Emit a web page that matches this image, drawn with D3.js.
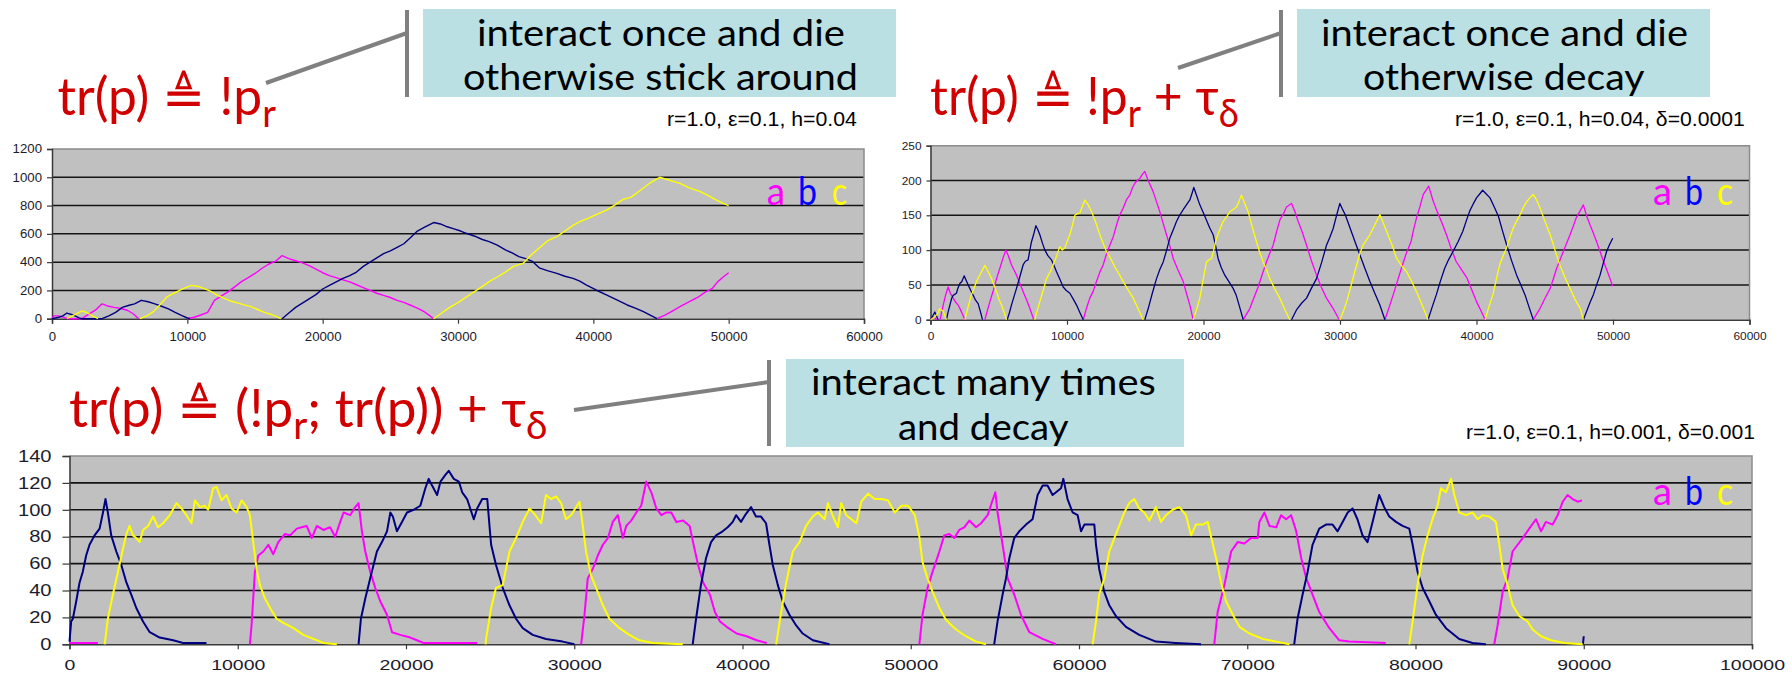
<!DOCTYPE html>
<html><head><meta charset="utf-8">
<script src="https://cdn.jsdelivr.net/npm/d3@7"></script>
<style>body{margin:0;background:#fff}svg{display:block}</style>
</head><body>
<svg id="c" width="1792" height="674"></svg>
<script>
// ---------------- DATA ----------------
const seriesNames = ["a", "b", "c"];
const seriesColors = ["#ff00ff", "#000080", "#ffff00"];
const legendColors = ["#ff00ff", "#0000ff", "#ffff00"];

const titles = [
  [{t:"tr(p) \u225C !p"},{t:"r",sub:true}],
  [{t:"tr(p) \u225C !p"},{t:"r",sub:true},{t:" + \u03C4"},{t:"\u03B4",sub:true}],
  [{t:"tr(p) \u225C (!p"},{t:"r",sub:true},{t:"; tr(p)) + \u03C4"},{t:"\u03B4",sub:true}]
];
const notes = [
  ["interact once and die", "otherwise stick around"],
  ["interact once and die", "otherwise decay"],
  ["interact many times", "and decay"]
];
const params = ["r=1.0, \u03B5=0.1, h=0.04", "r=1.0, \u03B5=0.1, h=0.04, \u03B4=0.0001", "r=1.0, \u03B5=0.1, h=0.001, \u03B4=0.001"];

const p1XTicks = [0,10000,20000,30000,40000,50000,60000];
const p1YTicks = [0,200,400,600,800,1000,1200];
const p2XTicks = [0,10000,20000,30000,40000,50000,60000];
const p2YTicks = [0,50,100,150,200,250];
const p3XTicks = [0,10000,20000,30000,40000,50000,60000,70000,80000,90000,100000];
const p3YTicks = [0,20,40,60,80,100,120,140];

// panel 1 : [time, count], [null] = gap
const p1_a = [[0,0],[120,20],[500,20],[1100,2],[1300,0],[2200,0],[2700,30],[3200,60],[3700,105],[4100,90],[4600,80],[5100,72],[5600,58],[6000,35],[6400,0],[null],[10000,0],[10500,10],[11000,26],[11500,45],[12000,130],[12500,160],[13000,190],[13500,225],[14000,262],[14500,290],[15000,320],[15500,355],[16000,385],[16500,405],[17000,446],[17500,425],[18000,410],[18500,395],[19000,375],[19500,350],[20000,325],[20500,305],[21000,290],[21500,275],[22000,260],[22500,240],[23000,220],[23500,200],[24000,180],[24500,165],[25000,150],[25500,130],[26000,115],[26500,95],[27000,75],[27500,50],[28000,15],[28200,0],[null],[44700,0],[45300,25],[45900,57],[46500,90],[47100,120],[47700,150],[48300,190],[48800,215],[49200,262],[49600,295],[50000,325]];
const p1_b = [[0,0],[500,10],[800,20],[1100,40],[1500,28],[2000,5],[2200,0],[3700,0],[4200,20],[4700,45],[5200,80],[5700,95],[6100,105],[6600,130],[7100,120],[7600,105],[8100,88],[8600,70],[9100,45],[9600,22],[10000,5],[10200,0],[null],[17000,0],[17500,40],[18000,80],[18500,110],[19000,140],[19500,170],[20000,210],[20500,235],[21000,260],[21500,285],[22000,305],[22500,330],[23000,370],[23500,400],[24000,430],[24500,460],[25000,480],[25500,505],[26000,530],[26500,575],[27000,620],[27500,645],[28200,680],[28700,670],[29200,650],[29700,635],[30200,620],[30600,604],[31200,585],[31800,560],[32300,545],[32900,520],[33500,486],[34000,465],[34500,439],[35000,425],[35500,405],[36000,360],[36600,340],[37300,321],[37900,300],[38500,285],[39000,265],[39500,238],[40200,203],[41000,167],[41700,135],[42500,97],[43100,75],[43700,50],[44200,25],[44700,0]];
const p1_c = [[1100,0],[1500,20],[1900,40],[2200,55],[2600,42],[3000,20],[3400,0],[null],[6500,0],[7000,20],[7500,50],[8000,100],[8500,155],[9000,180],[9500,203],[10000,225],[10300,236],[10800,228],[11200,215],[11700,195],[12200,167],[12700,145],[13200,125],[13700,112],[14200,98],[14700,85],[15200,65],[15700,45],[16200,30],[16600,15],[16900,0],[null],[28200,0],[28800,40],[29300,75],[29900,108],[30500,145],[31100,185],[31700,222],[32300,262],[32900,295],[33500,330],[34100,370],[34800,391],[35400,450],[36000,500],[36600,550],[37300,580],[37900,620],[38500,660],[39000,686],[39600,710],[40300,740],[41000,769],[41600,805],[42200,844],[42800,860],[43500,910],[44200,960],[44900,1000],[45600,980],[46400,957],[47100,925],[47900,898],[48500,870],[49100,839],[49600,815],[50000,800]];

// panel 2
const p2_a = [[0,0],[200,4],[500,0],[null],[700,0],[930,21],[1100,35],[1290,47],[1450,38],[1660,31],[1850,25],[2030,21],[2250,12],[2520,0],[null],[3980,0],[4150,12],[4350,26],[4600,42],[4840,59],[5080,74],[5300,88],[5520,100],[5700,92],[5930,79],[6100,72],[6300,64],[6550,52],[6790,40],[7050,28],[7280,16],[7570,0],[null],[11190,0],[11420,16],[11670,31],[11900,40],[12160,55],[12400,68],[12650,79],[12900,95],[13140,107],[13400,120],[13630,136],[13850,150],[14110,160],[14350,172],[14600,179],[14800,190],[14970,196],[15150,200],[15340,203],[15500,208],[15700,213],[15950,200],[16310,184],[16550,170],[16800,155],[17050,138],[17290,122],[17550,105],[17780,88],[18100,73],[18510,55],[18750,38],[19000,21],[19240,0],[null],[22910,0],[23150,8],[23390,16],[23700,32],[24000,47],[24300,65],[24610,83],[24850,95],[25100,107],[25350,126],[25590,143],[25850,152],[26080,162],[26450,167],[26700,155],[26940,141],[27250,125],[27550,107],[27900,85],[28280,64],[28650,46],[29010,31],[29500,16],[29940,0],[null],[33290,0],[33600,18],[33900,36],[34200,55],[34500,74],[34850,95],[35200,112],[35400,130],[35600,146],[35850,162],[36100,180],[36500,192],[36800,172],[37100,156],[37450,140],[37800,122],[38150,102],[38500,84],[38900,72],[39300,60],[39650,43],[40000,26],[40300,14],[40630,0],[null],[44160,0],[44400,8],[44650,16],[45000,30],[45400,45],[45650,60],[45870,74],[46100,85],[46360,98],[46600,110],[46850,122],[47100,135],[47300,146],[47550,155],[47830,165],[48050,150],[48300,137],[48550,125],[48800,112],[49050,98],[49300,84],[49650,66],[49980,48]];
const p2_b = [[0,0],[150,5],[320,11],[450,5],[560,0],[null],[1170,0],[1300,12],[1420,21],[1540,30],[1660,35],[1900,38],[2000,45],[2150,52],[2300,55],[2470,63],[2600,57],[2760,50],[2950,42],[3130,35],[3300,28],[3490,23],[3650,12],[3810,0],[null],[5620,0],[5780,10],[5930,21],[6100,32],[6300,45],[6550,62],[6790,79],[6950,84],[7150,86],[7280,100],[7400,112],[7550,122],[7720,135],[7850,130],[8010,122],[8200,110],[8380,100],[8600,92],[8860,86],[9050,78],[9230,69],[9480,58],[9720,47],[9950,42],[10210,38],[10450,30],[10700,21],[10950,10],[11190,0],[null],[15700,0],[15950,16],[16250,38],[16560,59],[16800,72],[17050,83],[17300,100],[17530,117],[17800,130],[18020,141],[18250,150],[18510,158],[18750,165],[19000,172],[19150,181],[19290,190],[19500,178],[19730,165],[19980,154],[20220,143],[20450,132],[20710,122],[20900,105],[21070,88],[21300,75],[21560,64],[21850,55],[22170,45],[22400,35],[22650,18],[22910,0],[null],[26450,0],[26810,14],[27200,24],[27550,31],[27900,45],[28280,59],[28650,82],[29010,107],[29250,118],[29500,131],[29750,150],[29990,167],[30150,160],[30400,150],[30730,132],[31100,112],[31460,93],[31800,75],[32190,55],[32550,38],[32920,21],[33290,0],[null],[36450,0],[36750,18],[37060,36],[37350,55],[37670,74],[37950,86],[38280,98],[38650,112],[39000,127],[39250,142],[39500,156],[39750,166],[40000,175],[40250,181],[40450,186],[40700,181],[40990,175],[41300,162],[41600,149],[41900,128],[42200,108],[42550,86],[42940,64],[43250,50],[43550,36],[43850,18],[44160,0],[null],[47830,0],[48070,12],[48300,24],[48560,36],[48800,50],[49050,64],[49300,82],[49530,98],[49750,108],[49980,117]];
const p2_c = [[0,0],[300,4],[500,8],[680,16],[800,14],[930,12],[1050,6],[1170,0],[null],[2520,0],[2750,18],[3000,36],[3200,46],[3370,55],[3550,62],[3740,69],[3980,78],[4200,70],[4470,59],[4650,50],[4840,40],[5000,30],[5200,21],[5400,10],[5570,0],[null],[7640,0],[7800,12],[8010,26],[8250,42],[8500,59],[8750,68],[8990,79],[9250,92],[9470,105],[9650,100],[9840,103],[10000,112],[10210,122],[10400,136],[10570,150],[10750,152],[10940,153],[11100,162],[11310,172],[11550,165],[11800,155],[12100,140],[12410,122],[12650,110],[12890,98],[13200,88],[13500,76],[13800,66],[14110,55],[14500,42],[14850,31],[15200,16],[15580,0],[null],[19240,0],[19500,15],[19730,31],[19950,55],[20220,83],[20400,86],[20590,88],[20750,100],[20950,117],[21200,130],[21440,141],[21700,148],[21930,155],[22150,158],[22420,162],[22600,170],[22780,179],[23000,168],[23270,155],[23550,135],[23880,112],[24100,98],[24370,83],[24600,72],[24860,59],[25200,45],[25590,31],[25950,15],[26320,0],[null],[30000,0],[30250,12],[30490,26],[30850,52],[31220,79],[31450,95],[31710,108],[31950,115],[32190,122],[32550,136],[32920,151],[33150,140],[33410,127],[33800,108],[34150,88],[34500,78],[34880,69],[35250,55],[35610,40],[36000,22],[36450,0],[null],[40630,0],[40900,18],[41200,36],[41450,58],[41700,79],[41950,92],[42200,103],[42450,118],[42700,132],[42950,142],[43200,151],[43450,162],[43700,170],[43950,176],[44160,180],[44400,172],[44650,161],[45000,142],[45400,122],[45750,100],[46100,79],[46450,62],[46850,45],[47200,30],[47600,16],[47830,0]];

// panel 3
const p3_a = [[0,1],[1690,1],[null],[10720,0],[10820,14],[11020,54],[11220,66],[11520,69],[11820,74],[12110,67],[12410,76],[12810,82],[13110,81],[13510,86],[13800,87],[14100,88],[14400,79],[14700,88],[15090,85],[15490,87],[15790,80],[16090,91],[16290,98],[16680,96],[16980,102],[17180,105],[17380,84],[17580,69],[17870,54],[18170,42],[18470,32],[18870,22],[19170,9],[19660,7],[20260,5],[20650,3],[21050,1],[24230,1],[null],[30410,0],[30610,22],[30800,49],[31100,56],[31400,66],[31700,74],[32000,79],[32290,91],[32590,96],[32890,79],[33090,88],[33390,92],[33690,98],[33980,103],[34280,121],[34580,113],[34880,101],[35180,96],[35470,98],[35770,98],[36070,91],[36470,92],[36860,88],[37060,76],[37360,59],[37660,46],[38060,37],[38360,24],[38660,17],[39060,13],[39650,8],[40250,6],[40840,3],[41440,1],[null],[50510,0],[50700,22],[51000,42],[51300,54],[51700,69],[51990,81],[52290,82],[52590,79],[52880,85],[53180,87],[53480,92],[53880,87],[54180,90],[54570,96],[54830,106],[55030,113],[55160,98],[55460,74],[55760,49],[56150,37],[56550,22],[57050,9],[57840,4],[58630,0],[null],[68040,0],[68240,24],[68640,44],[69040,69],[69430,76],[69830,75],[70230,79],[70620,79],[70720,91],[71020,98],[71320,88],[71720,87],[72010,96],[72310,93],[72610,96],[72910,84],[73210,64],[73510,49],[73880,37],[74280,24],[74880,12],[75470,3],[76060,2],[78230,1],[null],[84680,0],[84880,14],[85180,39],[85470,49],[85770,69],[86070,74],[86370,79],[86760,86],[87160,93],[87460,84],[87750,91],[88150,89],[88450,96],[88750,106],[89040,111],[89340,108],[89640,106],[89900,107]];
const p3_b = [[0,2],[100,17],[200,19],[400,32],[600,46],[790,54],[990,66],[1190,74],[1490,81],[1790,86],[1990,98],[2140,108],[2280,98],[2480,81],[2780,69],[3080,59],[3380,46],[3670,37],[3970,27],[4370,17],[4770,9],[5360,5],[6160,3],[6750,1],[8140,1],[null],[17180,0],[17320,19],[17580,34],[17870,49],[18270,69],[18570,76],[18870,84],[19070,98],[19220,95],[19460,84],[19760,91],[20060,98],[20450,100],[20850,103],[21150,116],[21350,123],[21550,118],[21850,111],[22050,121],[22340,126],[22540,129],[22840,123],[23140,121],[23340,113],[23630,108],[24030,93],[24230,101],[24530,108],[24830,108],[24990,84],[25060,74],[25350,59],[25750,42],[26150,29],[26540,19],[26940,12],[27530,7],[28320,4],[29310,2],[30010,0],[null],[37040,0],[37240,19],[37530,44],[37830,64],[38130,76],[38430,81],[38820,84],[39120,87],[39420,91],[39620,96],[39910,91],[40210,97],[40510,102],[40800,95],[41100,95],[41400,90],[41600,74],[41800,59],[42100,44],[42390,32],[42790,22],[43190,14],[43580,8],[44180,3],[45170,0],[null],[54960,0],[55160,17],[55460,37],[55660,49],[55860,64],[56150,79],[56450,84],[56850,89],[57240,93],[57540,111],[57840,118],[58130,118],[58430,111],[58730,114],[58930,116],[59070,123],[59320,108],[59620,98],[59920,96],[60120,84],[60320,89],[60710,89],[60910,89],[61010,74],[61200,56],[61500,39],[61800,29],[62190,21],[62790,13],[63580,7],[64570,2],[65760,1],[67250,0],[null],[72790,0],[72990,19],[73290,37],[73590,54],[73880,74],[74280,86],[74680,89],[75070,89],[75370,84],[75670,91],[75970,98],[76260,101],[76550,93],[76850,81],[77150,76],[77450,91],[77840,111],[78140,102],[78440,95],[78840,91],[79230,88],[79630,86],[79830,74],[80120,54],[80420,42],[80820,32],[81210,22],[81810,12],[82600,4],[83390,1],[84180,0],[null],[89950,0],[90000,6]];
const p3_c = [[2090,0],[2280,19],[2580,37],[2880,54],[3180,71],[3380,82],[3570,88],[3770,81],[3970,79],[4170,76],[4370,85],[4670,88],[4970,95],[5260,87],[5560,90],[5960,96],[6360,105],[6650,101],[6950,96],[7250,90],[7450,107],[7750,102],[8040,103],[8240,100],[8540,116],[8740,117],[9040,107],[9330,111],[9630,101],[9930,98],[10230,107],[10530,102],[10720,96],[10920,76],[11120,56],[11320,44],[11620,34],[11920,27],[12310,19],[12710,16],[13310,12],[13900,7],[14500,4],[15090,1],[15890,0],[null],[24730,0],[24760,4],[25060,27],[25350,42],[25750,44],[26150,69],[26540,79],[26940,91],[27340,101],[27630,97],[28030,90],[28320,111],[28620,108],[28920,110],[29220,105],[29510,93],[29810,96],[30310,106],[30510,88],[30700,69],[31000,51],[31300,42],[31700,29],[32090,19],[32690,12],[33280,7],[33870,3],[34670,1],[36450,0],[null],[42000,0],[42300,24],[42600,46],[42990,69],[43390,76],[43780,88],[44180,95],[44480,98],[44880,93],[45080,105],[45380,95],[45670,87],[45870,105],[46170,96],[46470,93],[46770,90],[47060,106],[47460,112],[47860,108],[48260,108],[48650,107],[49050,98],[49450,103],[49840,103],[50240,96],[50510,80],[50700,61],[51000,49],[51300,39],[51700,27],[52100,18],[52690,11],[53280,6],[53880,2],[54470,0],[null],[60810,0],[61010,17],[61200,37],[61500,49],[61800,69],[62100,79],[62390,88],[62690,98],[62990,105],[63280,108],[63580,101],[63880,98],[64180,92],[64570,102],[64870,91],[65170,96],[65560,100],[65960,102],[66360,96],[66660,81],[66950,89],[67350,89],[67650,91],[67850,80],[68150,64],[68440,46],[68740,32],[69140,22],[69540,13],[70130,8],[70930,4],[71720,2],[72510,0],[null],[79630,0],[79830,17],[80120,44],[80420,66],[80720,81],[81010,93],[81310,103],[81510,116],[81810,113],[82110,123],[82310,111],[82600,98],[83000,96],[83390,98],[83690,93],[83990,96],[84380,95],[84780,91],[84980,74],[85180,56],[85480,44],[85770,29],[86170,21],[86660,17],[86960,11],[87460,6],[88050,3],[88850,1],[89940,0]];

// ---------------- DRAWING ----------------
const svg = d3.select("#c");
const COMIC = "Lato, 'Open Sans', sans-serif";
const ARIAL = "'Liberation Sans', Arial, sans-serif";
const NARROW = "'Liberation Sans Narrow', 'Liberation Sans', Arial, sans-serif";

// horizontally fit a text element into [x0, x0+w]
function fit(sel, x0, w) {
  const bb = sel.node().getBBox();
  const s = w / bb.width;
  sel.attr("transform", `translate(${x0},0) scale(${s},1) translate(${-bb.x},0)`);
}
// stretch a text element horizontally around its anchor
function stretch(node, s) {
  const bb = node.getBBox();
  const a = node.getAttribute("text-anchor") || getComputedStyle(node).textAnchor;
  let cx = bb.x;
  if (a === "end") cx = bb.x + bb.width; else if (a === "middle") cx = bb.x + bb.width/2;
  const prev = node.getAttribute("transform") || "";
  node.setAttribute("transform", `${prev} translate(${cx},0) scale(${s},1) translate(${-cx},0)`);
}

function panel(c) {
  const x = d3.scaleLinear().domain([0, c.xMax]).range([c.l, c.r]);
  const y = d3.scaleLinear().domain([0, c.yMax]).range([c.b, c.t]);
  const g = svg.append("g");
  g.append("rect").attr("x", c.l).attr("y", c.t).attr("width", c.r - c.l).attr("height", c.b - c.t).attr("fill", "#c0c0c0");
  g.append("g").selectAll("line").data(c.yTicks.filter(v => v > 0 && v < c.yMax)).join("line")
    .attr("x1", c.l).attr("x2", c.r).attr("y1", d => y(d)).attr("y2", d => y(d))
    .attr("stroke", "#141414").attr("stroke-width", c.gw);
  g.append("path").attr("d", `M${c.l},${c.t}H${c.r}V${c.b}`).attr("fill", "none")
    .attr("stroke", "#8c8c8c").attr("stroke-width", 1.5);

  const ya = g.append("g").attr("transform", `translate(${c.l},0)`)
    .call(d3.axisLeft(y).tickValues(c.yTicks).tickFormat(d => String(d)).tickSize(c.ytl).tickPadding(c.ypad));
  const xa = g.append("g").attr("transform", `translate(0,${c.b})`)
    .call(d3.axisBottom(x).tickValues(c.xTicks).tickFormat(d => String(d)).tickSize(c.xtl).tickPadding(c.xpad));
  [ya, xa].forEach(a => {
    a.select(".domain").attr("stroke", "#3a3a3a").attr("stroke-width", 1.5);
    a.selectAll(".tick line").attr("stroke", "#3a3a3a").attr("stroke-width", 1.2);
    a.selectAll("text").attr("font-family", ARIAL).attr("fill", "#1c1c2c");
  });
  ya.selectAll("text").attr("font-size", c.fs).each(function(){ stretch(this, c.st); });
  xa.selectAll("text").attr("font-size", c.xfs).each(function(){ stretch(this, c.xst); });

  const line = d3.line().defined(d => d[1] != null).x(d => x(d[0])).y(d => y(d[1]));
  c.series.forEach((s, i) => {
    g.append("path").attr("d", line(s)).attr("fill", "none").attr("stroke", seriesColors[i])
      .attr("stroke-width", c.lw).attr("stroke-linejoin", "round").attr("stroke-linecap", "butt");
  });
}

panel({l:52, r:864, t:149, b:318.7, xMax:60000, yMax:1200, xTicks:p1XTicks, yTicks:p1YTicks,
  series:[p1_a, p1_b, p1_c], fs:12, st:1.1, xfs:12, xst:1.1, ytl:5, ypad:5, xtl:5, xpad:9, lw:1.4, gw:1.5});
panel({l:930.5, r:1749.5, t:145.7, b:319.7, xMax:60000, yMax:250, xTicks:p2XTicks, yTicks:p2YTicks,
  series:[p2_a, p2_b, p2_c], fs:11, st:1.08, xfs:11, xst:1.08, ytl:4, ypad:5, xtl:5, xpad:7, lw:1.3, gw:1.5});
panel({l:69.5, r:1752, t:456, b:644.3, xMax:100000, yMax:140, xTicks:p3XTicks, yTicks:p3YTicks,
  series:[p3_a, p3_b, p3_c], fs:16.5, st:1.22, xfs:15, xst:1.3, ytl:7, ypad:11, xtl:5, xpad:10.3, lw:2, gw:1.6});

// ----- callout boxes -----
const boxes = [
  {x0:423, x1:896, y0:9, y1:97, b1:46.5, b2:90.5, l1:[477,845], l2:[463,858]},
  {x0:1297, x1:1710, y0:9, y1:97, b1:46.5, b2:90.5, l1:[1321,1688], l2:[1363,1645]},
  {x0:786, x1:1184, y0:359, y1:447, b1:395, b2:440, l1:[811,1156], l2:[898,1069]}
];
boxes.forEach((b, i) => {
  svg.append("rect").attr("x", b.x0).attr("y", b.y0).attr("width", b.x1 - b.x0).attr("height", b.y1 - b.y0).attr("fill", "#bbe0e3");
  const t1 = svg.append("text").attr("y", b.b1).attr("font-family", COMIC).attr("font-size", 36).attr("fill", "#000").text(notes[i][0]);
  fit(t1, b.l1[0], b.l1[1] - b.l1[0]);
  const t2 = svg.append("text").attr("y", b.b2).attr("font-family", COMIC).attr("font-size", 36).attr("fill", "#000").text(notes[i][1]);
  fit(t2, b.l2[0], b.l2[1] - b.l2[0]);
});

// ----- callout connector lines -----
const connectors = [
  {vx:407, vy0:10, vy1:97, dx0:266, dy0:83, dy1:33},
  {vx:1281, vy0:10, vy1:97, dx0:1178, dy0:68, dy1:33},
  {vx:769, vy0:360, vy1:446, dx0:574, dy0:410, dy1:382}
];
connectors.forEach(c => {
  svg.append("line").attr("x1", c.vx).attr("x2", c.vx).attr("y1", c.vy0).attr("y2", c.vy1).attr("stroke", "#808080").attr("stroke-width", 4);
  svg.append("line").attr("x1", c.dx0).attr("y1", c.dy0).attr("x2", c.vx).attr("y2", c.dy1).attr("stroke", "#808080").attr("stroke-width", 4);
});

// ----- red titles -----
const titlePos = [{x0:57.5, x1:276, y:115}, {x0:930, x1:1239, y:115}, {x0:69, x1:548, y:427}];
titles.forEach((parts, i) => {
  const p = titlePos[i];
  const t = svg.append("text").attr("y", p.y).attr("font-family", COMIC).attr("font-size", 52).attr("fill", "#d00000");
  let sub = false;
  parts.forEach(part => {
    const ts = t.append("tspan").text(part.t);
    if (part.sub && !sub) { ts.attr("dy", 12).attr("font-size", 38); sub = true; }
    else if (!part.sub && sub) { ts.attr("dy", -12); sub = false; }
  });
  fit(t, p.x0, p.x1 - p.x0);
});

// ----- parameter strings -----
const paramPos = [{x0:667, x1:857, y:126}, {x0:1455, x1:1745, y:126}, {x0:1466, x1:1755, y:439}];
params.forEach((s, i) => {
  const p = paramPos[i];
  const t = svg.append("text").attr("y", p.y).attr("font-family", NARROW).attr("font-size", 20).attr("fill", "#000").text(s);
  fit(t, p.x0, p.x1 - p.x0);
});

// ----- legends -----
const legendPos = [
  {y:205, xs:[[766.7,785],[798,817],[831.7,847]]},
  {y:205, xs:[[1653,1672],[1685,1703],[1717,1733]]},
  {y:505, xs:[[1653,1672],[1685,1703],[1717,1733]]}
];
legendPos.forEach(L => {
  seriesNames.forEach((n, i) => {
    const t = svg.append("text").attr("y", L.y).attr("font-family", COMIC).attr("font-size", 39).attr("fill", legendColors[i]).text(n);
    fit(t, L.xs[i][0], L.xs[i][1] - L.xs[i][0]);
  });
});
</script>
</body></html>
